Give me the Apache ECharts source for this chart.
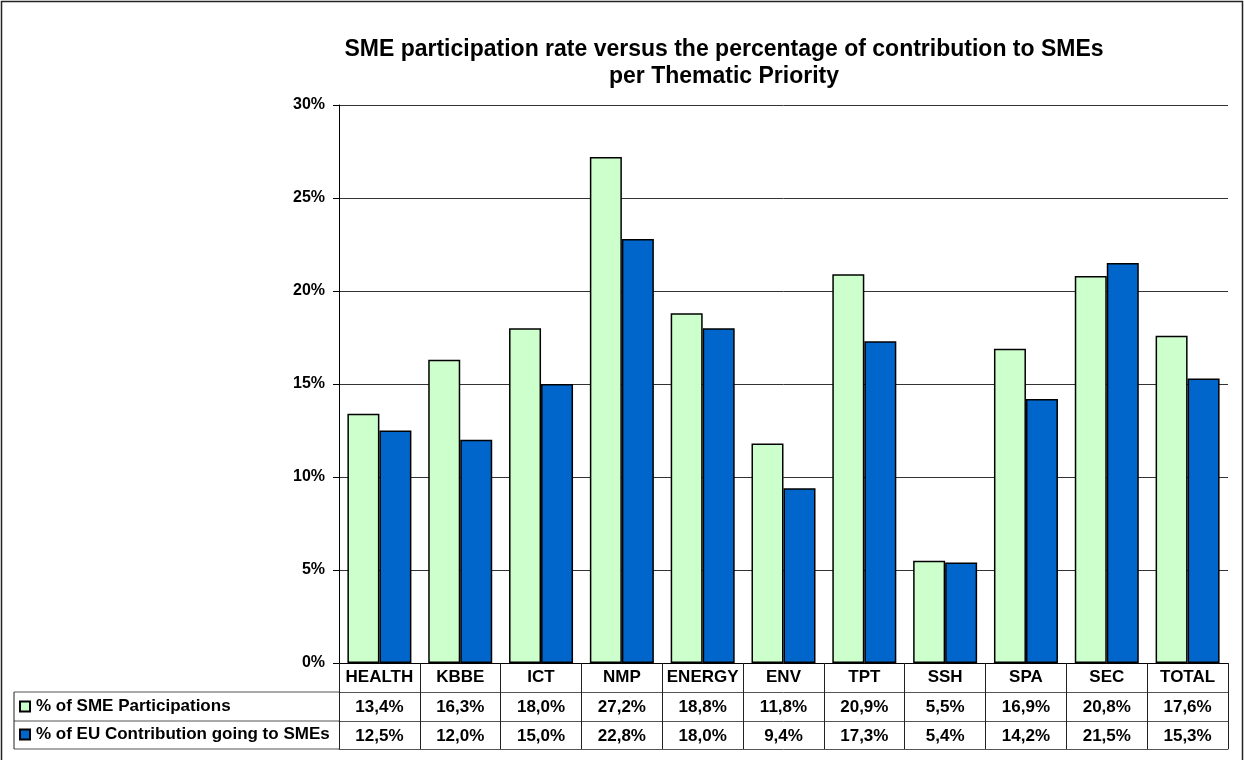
<!DOCTYPE html>
<html>
<head>
<meta charset="utf-8">
<script src="https://cdn.jsdelivr.net/npm/echarts@6.0.0/dist/echarts.min.js"></script>
<style>
  html, body { margin: 0; padding: 0; background: #fff; }
  #smeChart { width: 1244px; height: 760px; }
</style>
</head>
<body>
<div id="smeChart"></div>
<script>
// data
var categories = ['HEALTH', 'KBBE', 'ICT', 'NMP', 'ENERGY', 'ENV', 'TPT', 'SSH', 'SPA', 'SEC', 'TOTAL'];
var smeParticipations = [13.4, 16.3, 18.0, 27.2, 18.8, 11.8, 20.9, 5.5, 16.9, 20.8, 17.6];
var euContribution = [12.5, 12.0, 15.0, 22.8, 18.0, 9.4, 17.3, 5.4, 14.2, 21.5, 15.3];
var seriesNames = ['% of SME Participations', '% of EU Contribution going to SMEs'];
var yTicks = [0, 5, 10, 15, 20, 25, 30];

var FONT = '"Liberation Sans", Arial, sans-serif';

// 13.4 -> "13,4%"
function pct(v) {
  return v.toFixed(1).replace('.', ',') + '%';
}

var myChart = echarts.init(document.getElementById('smeChart'));

var labelBase = {
  color: '#000',
  fontFamily: FONT,
  fontWeight: 'bold',
  fontSize: 17,
  interval: 0
};

// the data table under the plot: one extra category axis per row
function tableAxis(offset, rowData) {
  return {
    type: 'category',
    position: 'bottom',
    offset: offset,
    data: rowData || categories,
    boundaryGap: true,
    axisLine: { show: true, lineStyle: { color: '#555', width: 1 } },
    axisTick: { show: false },
    axisLabel: Object.assign({ show: !!rowData, margin: 7 }, labelBase),
    splitLine: { show: false }
  };
}

function legendRow(name, top) {
  return {
    data: [name],
    orient: 'vertical',
    left: 19,
    top: top,
    icon: 'rect',
    itemWidth: 10,
    itemHeight: 10,
    itemGap: 0,
    padding: 0,
    selectedMode: false,
    textStyle: { fontFamily: FONT, fontWeight: 'bold', fontSize: 17, color: '#000', padding: [0, 0, 0, 1] }
  };
}

myChart.setOption({
  animation: false,
  title: {
    text: 'SME participation rate versus the percentage of contribution to SMEs\nper Thematic Priority',
    left: 719,
    top: 31,
    textAlign: 'center',
    textStyle: {
      fontFamily: FONT,
      fontWeight: 'bold',
      fontSize: 23,
      lineHeight: 27,
      color: '#000'
    }
  },
  legend: [
    legendRow(seriesNames[0], 698),
    legendRow(seriesNames[1], 726)
  ],
  grid: {
    left: 339,
    right: 16,
    top: 105,
    bottom: 97,
    containLabel: false
  },
  xAxis: [
    {
      type: 'category',
      position: 'bottom',
      data: categories,
      boundaryGap: true,
      axisLine: { show: true, lineStyle: { color: '#000', width: 1 } },
      // ticks at category boundaries form the table's column lines
      axisTick: { show: true, interval: 0, length: 86, lineStyle: { color: '#222', width: 1 } },
      axisLabel: Object.assign({ margin: 6 }, labelBase),
      splitLine: { show: false }
    },
    tableAxis(29, smeParticipations.map(pct)),
    tableAxis(58, euContribution.map(pct)),
    tableAxis(86, null)
  ],
  yAxis: {
    type: 'value',
    min: yTicks[0],
    max: yTicks[yTicks.length - 1],
    interval: 5,
    axisLine: { show: true, lineStyle: { color: '#000', width: 1 } },
    axisTick: { show: true, length: 6, lineStyle: { color: '#000' } },
    axisLabel: Object.assign({ margin: 14, formatter: '{value}%' }, labelBase, { fontSize: 16 }),
    splitLine: { show: true, lineStyle: { color: '#333', width: 1 } }
  },
  series: [
    {
      name: seriesNames[0],
      type: 'bar',
      barWidth: 32,
      barGap: 0,
      itemStyle: { color: '#CCFFCC', borderColor: '#000', borderWidth: 1.5 },
      data: smeParticipations
    },
    {
      name: seriesNames[1],
      type: 'bar',
      barWidth: 32,
      barGap: 0,
      itemStyle: { color: '#0066CC', borderColor: '#000', borderWidth: 1.5 },
      data: euContribution
    }
  ],
  graphic: [
    // outer chart frame
    { type: 'rect', shape: { x: 1.5, y: 1.5, width: 1241, height: 780 }, style: { fill: 'none', stroke: '#222', lineWidth: 1.5 }, silent: true },
    // left part of the data table (series-name column)
    { type: 'line', shape: { x1: 14, y1: 692, x2: 339, y2: 692 }, style: { stroke: '#555', lineWidth: 1 }, silent: true },
    { type: 'line', shape: { x1: 14, y1: 721, x2: 339, y2: 721 }, style: { stroke: '#555', lineWidth: 1 }, silent: true },
    { type: 'line', shape: { x1: 14, y1: 749, x2: 339, y2: 749 }, style: { stroke: '#555', lineWidth: 1 }, silent: true },
    { type: 'line', shape: { x1: 14, y1: 692, x2: 14, y2: 749 }, style: { stroke: '#222', lineWidth: 1 }, silent: true }
  ]
});
</script>
</body>
</html>
